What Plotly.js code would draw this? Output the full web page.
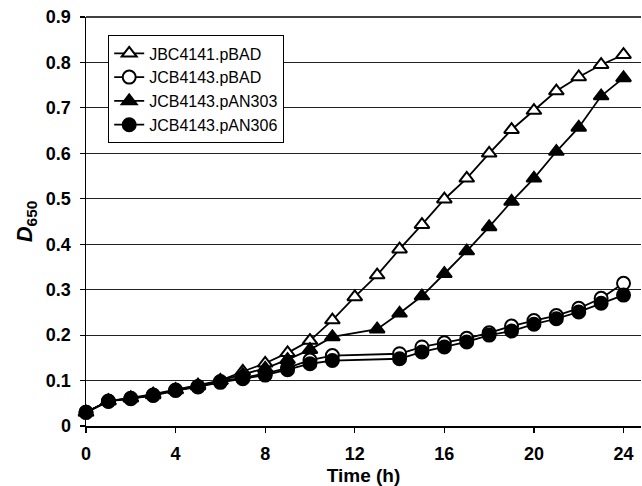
<!DOCTYPE html>
<html>
<head>
<meta charset="utf-8">
<script src="https://cdn.plot.ly/plotly-3.0.1.min.js"></script>
<style>html,body{margin:0;padding:0;background:#fff;}#chart{width:642px;height:486px;}</style>
</head>
<body>
<div id="chart"></div>
<script>
// Time points (h)
var timeAll = [0,1,2,3,4,5,6,7,8,9,10,11,12,13,14,15,16,17,18,19,20,21,22,23,24];
var timeNo12_13 = [0,1,2,3,4,5,6,7,8,9,10,11,14,15,16,17,18,19,20,21,22,23,24];
var timeNo12 = [0,1,2,3,4,5,6,7,8,9,10,11,13,14,15,16,17,18,19,20,21,22,23,24];

// D650 values
var jbc4141_pBAD = [0.030,0.055,0.062,0.070,0.080,0.090,0.100,0.120,0.138,0.161,0.188,0.233,0.284,0.332,0.389,0.443,0.499,0.545,0.600,0.652,0.694,0.737,0.768,0.795,0.817];
var jcb4143_pBAD = [0.030,0.055,0.061,0.068,0.079,0.087,0.098,0.106,0.115,0.128,0.145,0.155,0.159,0.174,0.183,0.193,0.205,0.220,0.232,0.243,0.259,0.281,0.314];
var jcb4143_pAN303 = [0.030,0.055,0.061,0.068,0.079,0.088,0.100,0.113,0.127,0.146,0.168,0.196,0.213,0.248,0.286,0.335,0.385,0.438,0.494,0.545,0.604,0.657,0.726,0.766];
var jcb4143_pAN306 = [0.030,0.054,0.060,0.067,0.078,0.086,0.096,0.104,0.112,0.124,0.137,0.144,0.148,0.163,0.174,0.185,0.200,0.209,0.224,0.236,0.251,0.270,0.288];

var names = ["JBC4141.pBAD","JCB4143.pBAD","JCB4143.pAN303","JCB4143.pAN306"];
var yTickVals = [0,0.1,0.2,0.3,0.4,0.5,0.6,0.7,0.8,0.9];
var yTickText = ["0","0.1","0.2","0.3","0.4","0.5","0.6","0.7","0.8","0.9"];
var xTickVals = [0,4,8,12,16,20,24];

function tr(x, y, name, symbol, size, fill, grp) {
  return {
    x: x, y: y, name: name, type: "scatter", mode: "lines+markers",
    legendgroup: grp,
    line: {color: "#000", width: 1.8},
    marker: {symbol: symbol, size: size, color: fill, line: {color: "#000", width: 2}},
    cliponaxis: false
  };
}

var data = [
  tr(timeAll, jbc4141_pBAD, names[0], "triangle-up", 13, "#fff", "g1"),
  tr(timeNo12_13, jcb4143_pBAD, names[1], "circle", 13, "#fff", "g2"),
  tr(timeNo12, jcb4143_pAN303, names[2], "triangle-up", 13, "#000", "g3"),
  tr(timeNo12_13, jcb4143_pAN306, names[3], "circle", 13, "#000", "g4")
];

var font = "'Liberation Sans', Arial, sans-serif";
var layout = {
  width: 642, height: 486,
  margin: {l: 86, r: 1, t: 17, b: 60},
  paper_bgcolor: "#fff", plot_bgcolor: "#fff",
  font: {family: font, color: "#000"},
  showlegend: true,
  legend: {
    x: 0.04, y: 0.955, xanchor: "left", yanchor: "top",
    bgcolor: "#fff", bordercolor: "#000", borderwidth: 1,
    font: {family: font, size: 16, color: "#000"},
    traceorder: "grouped", tracegroupgap: 0
  },
  xaxis: {
    range: [0, 24.78], tickvals: xTickVals, ticktext: xTickVals.map(String),
    showgrid: false, zeroline: false,
    showline: true, linecolor: "#000", linewidth: 1.5,
    ticks: "outside", ticklen: 5, tickwidth: 1.2, tickcolor: "#000",
    ticklabelstandoff: 6,
    tickfont: {family: font, size: 18, weight: "bold"},
    title: {text: "<b>Time (h)</b>", font: {family: font, size: 19}, standoff: 7}
  },
  yaxis: {
    range: [0, 0.9], tickvals: yTickVals, ticktext: yTickText,
    showgrid: true, gridcolor: "#222", gridwidth: 1,
    zeroline: false,
    showline: true, linecolor: "#000", linewidth: 1.5,
    ticks: "outside", ticklen: 5, tickwidth: 1.2, tickcolor: "#000",
    ticklabelstandoff: 5,
    tickfont: {family: font, size: 18, weight: "bold"},
    title: {text: "<b><i>D</i><sub>650</sub></b>", font: {family: font, size: 22}, standoff: 7}
  },
  shapes: [{type: "line", xref: "paper", yref: "paper", x0: 0, x1: 1, y0: 1, y1: 1, line: {color: "#000", width: 1.5}}]
};

Plotly.newPlot("chart", data, layout, {displayModeBar: false, staticPlot: true});
</script>
</body>
</html>
